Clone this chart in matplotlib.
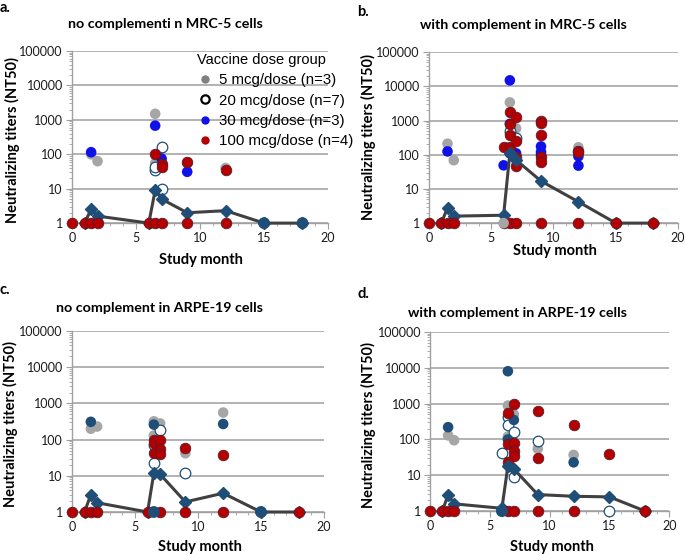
import matplotlib
matplotlib.use("Agg")
import matplotlib.pyplot as plt
from matplotlib.ticker import FixedLocator, LogLocator, NullFormatter
from matplotlib.lines import Line2D

# -------------------------------------------------------------
# data  (month, NT50)

months_med = [1, 1.5, 2, 6, 6.5, 7, 9, 12, 15, 18]
base_a = [0, 1, 1.5, 2, 6, 6.5, 7, 9, 12]          # red points at titer 1
base_b = [0, 1, 1.5, 2, 6, 6.5, 7, 9, 12, 15, 18]
base_c = [0, 1, 1.5, 2, 6, 7, 9, 12, 18]
base_d = [0, 1, 1.5, 2, 6.5, 7, 9, 12, 18]

# panel a - no complement, MRC-5
a_5 = [(1.5, 100), (2, 63), (6.5, 1500), (6.5, 55), (6.5, 45), (7, 60), (9, 55), (12, 40)]
a_20 = [(6.5, 34), (6.5, 42), (7, 160), (7, 10)]
a_30 = [(1.5, 115), (6.5, 680), (7, 75), (9, 31)]
a_30_low = [(15, 1), (18, 1)]
a_100 = [(6.5, 105), (7, 53), (7, 43), (9, 60), (12, 35)]
a_med = [1, 2.6, 1.6, 1, 9, 5, 2, 2.3, 1, 1]

# panel b - with complement, MRC-5
b_5 = [(1.5, 210), (2, 69), (6.5, 3400), (6.5, 420), (7, 590), (9, 900), (12, 165), (6, 1)]
b_20 = [(7, 300), (6.5, 480)]
b_30 = [(1.5, 125), (6, 49), (6.5, 15000), (6.5, 800), (6.5, 110), (7, 110),
        (9, 175), (9, 120), (9, 100), (12, 90), (12, 48)]
b_30_low = []
b_100 = [(6, 167), (6.5, 1750), (6.5, 800), (6.5, 370), (6.5, 167), (7, 1300), (7, 260),
         (7, 86), (7, 47), (9, 1000), (9, 850), (9, 390), (9, 85), (9, 61), (12, 130), (12, 120)]
b_med = [1, 2.8, 1.6, 1.7, 110, 70, 17, 4.2, 1, 1]

# panel c - no complement, ARPE-19
c_5 = [(1.5, 200), (2, 230), (6.5, 320), (6.5, 130), (7, 280), (9, 42), (12, 560)]
c_20 = [(7, 180), (6.5, 22), (9, 12), (6.5, 70)]
c_30 = [(1.5, 310), (6.5, 260), (12, 270)]
c_30_low = [(6.5, 1), (15, 1)]
c_100 = [(6.5, 100), (6.5, 80), (6.5, 42), (7, 100), (7, 56), (7, 39), (9, 60), (12, 37)]
c_med = [1, 3, 1.8, 1, 12, 11, 1.9, 3.3, 1, 1]

# panel d - with complement, ARPE-19
d_5 = [(1.5, 130), (2, 95), (6.5, 880), (6.5, 120), (7, 500), (9, 55), (12, 37)]
d_20 = [(6, 42), (6.5, 420), (6.5, 250), (7, 160), (7, 9), (9, 88), (15, 1)]
d_30 = [(1.5, 220), (6.5, 8000), (7, 350), (6.5, 100), (12, 23)]
d_30_low = [(6, 1)]
d_100 = [(6.5, 540), (7, 980), (6.5, 73), (7, 82), (7, 48), (7, 34), (6.5, 23),
         (9, 620), (9, 30), (12, 260), (15, 40)]
d_med = [1, 2.8, 1.6, 1.2, 18, 15, 2.9, 2.6, 2.5, 1]

legend_labels = ["5 mcg/dose (n=3)", "20 mcg/dose (n=7)", "30 mcg/dose (n=3)", "100 mcg/dose (n=4)"]

# -------------------------------------------------------------
# styles

GRAY = "#a6a6a6"
BLUE = "#1010e8"
NAVY = "#1f4e79"
RED = "#b40000"
REDEDGE = "#5c1a2a"
FONT = "Lato"
S = 58
W, H = 685, 555

plt.rcParams["font.family"] = FONT

fig = plt.figure(figsize=(6.85, 5.55), dpi=100)


def fx(px):
    return px / W


def fy(py):
    return 1 - py / H


# rect, title pos, xlabel pos, ylabel pos, letter pos  (pixels)
panels = [
    ("a.", "no complementi n MRC-5 cells", [0.105, 0.598, 0.374, 0.310],
     (165, 24), (201, 260), (12, 140), (0, 8),
     a_5, a_20, a_30, a_30_low, a_100, base_a, a_med, BLUE),
    ("b.", "with complement in MRC-5 cells", [0.626, 0.598, 0.364, 0.308],
     (523, 25), (555, 251), (368, 137), (357, 12),
     b_5, b_20, b_30, b_30_low, b_100, base_b, b_med, BLUE),
    ("c.", "no complement in ARPE-19 cells", [0.105, 0.0775, 0.368, 0.326],
     (160, 308), (200, 547), (10, 424), (0, 290),
     c_5, c_20, c_30, c_30_low, c_100, base_c, c_med, NAVY),
    ("d.", "with complement in ARPE-19 cells", [0.628, 0.079, 0.349, 0.323],
     (518, 313), (552, 547), (368, 425), (357, 294),
     d_5, d_20, d_30, d_30_low, d_100, base_d, d_med, NAVY),
]


def draw(ax, pts, z, **kw):
    hi = [p for p in pts if p[1] > 1]
    lo = [p for p in pts if p[1] <= 1]
    if hi:
        ax.scatter([p[0] for p in hi], [p[1] for p in hi], s=S, zorder=z, clip_on=False, **kw)
    if lo:
        ax.scatter([p[0] for p in lo], [p[1] for p in lo], s=S, zorder=12, clip_on=False, **kw)


for (letter, title, rect, tpos, xpos, ypos, lpos,
     g5, g20, g30, g30low, g100, base, med, c30) in panels:
    ax = fig.add_axes(rect)
    ax.set_yscale("log")
    ax.set_xlim(0, 20)
    ax.set_ylim(1, 100000)

    # points
    draw(ax, g5, 3, color=GRAY, edgecolors="none")
    draw(ax, g20, 4, facecolors="white", edgecolors=NAVY, linewidths=0.9)
    draw(ax, g30, 5, color=c30, edgecolors="none")
    if g30low:
        ax.scatter([p[0] for p in g30low], [p[1] for p in g30low], s=S * 1.25, color=NAVY,
                   edgecolors="none", zorder=12, clip_on=False)
    draw(ax, g100, 6, color=RED, edgecolors=REDEDGE, linewidths=0.6)
    ax.scatter(base, [1] * len(base), s=S, color=RED, edgecolors=REDEDGE, linewidths=0.6,
               zorder=11, clip_on=False)

    # median line
    ax.plot(months_med, med, color="#404040", lw=2.2, zorder=9, clip_on=False)
    ax.plot(months_med, med, ls="none", marker="D", ms=6, color=NAVY, zorder=10, clip_on=False)

    # axes look
    for side in ["top", "right"]:
        ax.spines[side].set_visible(False)
    for side in ["left", "bottom"]:
        ax.spines[side].set_color("#a0a0a0")
        ax.spines[side].set_linewidth(1.0)
    ax.yaxis.grid(True, which="major", color="#a6a6a6", lw=1.2)
    ax.set_axisbelow(True)
    ax.xaxis.set_major_locator(FixedLocator([0, 5, 10, 15, 20]))
    ax.xaxis.set_minor_locator(FixedLocator(range(21)))
    ax.yaxis.set_minor_locator(LogLocator(base=10, subs=range(2, 10), numticks=10))
    ax.yaxis.set_minor_formatter(NullFormatter())
    ax.set_yticks([1, 10, 100, 1000, 10000, 100000])
    ax.set_yticklabels(["1", "10", "100", "1000", "10000", "100000"])
    ax.tick_params(which="both", color="#a0a0a0", labelsize=9, labelcolor="#1a1a1a")
    ax.tick_params(which="major", length=4, pad=2.5)
    ax.tick_params(which="minor", length=2.5)

    fig.text(fx(tpos[0]), fy(tpos[1]), title, fontsize=10.3, fontweight="bold",
             ha="center", va="center")
    fig.text(fx(xpos[0]), fy(xpos[1]), "Study month", fontsize=10.5, fontweight="bold",
             ha="center", va="center")
    fig.text(fx(ypos[0]), fy(ypos[1]), "Neutralizing titers (NT50)", fontsize=10.5,
             fontweight="bold", ha="center", va="center", rotation=90)
    fig.text(fx(lpos[0]), fy(lpos[1]), letter, fontsize=10.5, fontweight="bold",
             ha="left", va="center")

    if letter == "a.":
        handles = [
            Line2D([], [], ls="none", marker="o", ms=5, color="#7f7f7f"),
            Line2D([], [], ls="none", marker="o", ms=6, mfc="white", mec="black", mew=1.6),
            Line2D([], [], ls="none", marker="o", ms=5, color=BLUE),
            Line2D([], [], ls="none", marker="o", ms=5, color=RED),
        ]
        leg = ax.legend(handles, legend_labels, title="Vaccine dose group", loc="upper left",
                        bbox_to_anchor=(fx(197), fy(53)), bbox_transform=fig.transFigure,
                        frameon=False, labelspacing=0.42, handletextpad=0.45,
                        handlelength=1.0, borderaxespad=0, borderpad=0,
                        prop={"family": "Liberation Sans", "size": 10.8})
        leg.get_title().set_family("Liberation Sans")
        leg.get_title().set_fontsize(10.5)
        leg._legend_box.align = "left"
        leg.set_zorder(20)

fig.savefig("out.png", dpi=100)
